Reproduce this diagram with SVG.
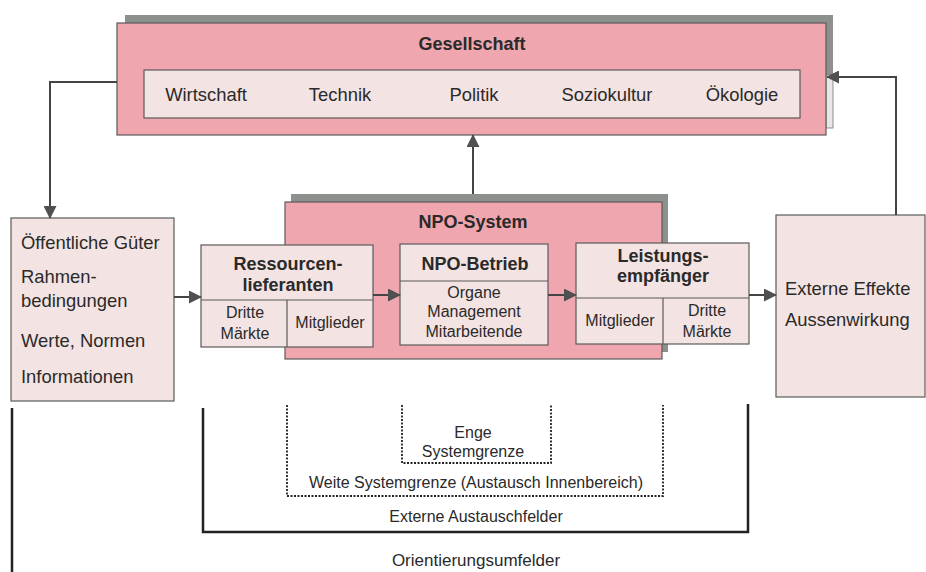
<svg xmlns="http://www.w3.org/2000/svg" width="926" height="572" viewBox="0 0 926 572">
<defs>
<style>
text{font-family:"Liberation Sans",Arial,sans-serif;fill:#2a2a2a}
.t18{font-size:18.4px}
.b18{font-size:18px;font-weight:bold}
.t16{font-size:16px}
.mid{text-anchor:middle}
.pink{fill:#efa6ae;stroke:#5a5a5a;stroke-width:1.2}
.light{fill:#f3e3e2;stroke:#5a5a5a;stroke-width:1.2}
.shadow{fill:#8d918d}
.conn{fill:none;stroke:#444;stroke-width:2}
.bound{fill:none;stroke:#222;stroke-width:2.5}
.dot{fill:none;stroke:#222;stroke-width:1.8;stroke-dasharray:2 1.5}
</style>
<marker id="ah" viewBox="0 0 13 13" refX="12" refY="6.5" markerWidth="13" markerHeight="13" markerUnits="userSpaceOnUse" orient="auto">
<path d="M0,0 L13,6.5 L0,13 z" fill="#505050"/>
</marker>
</defs>
<rect width="926" height="572" fill="#ffffff"/>

<g id="gesellschaft">
<rect class="shadow" x="125" y="15" width="708" height="113"/>
<rect x="826" y="75" width="7" height="53" fill="#e6e8e6" stroke="#777" stroke-width="0.8"/>
<rect class="pink" x="117" y="23" width="709" height="112"/>
<text class="b18 mid" x="472" y="50">Gesellschaft</text>
<rect class="light" x="144" y="70" width="656" height="48"/>
<text class="t18 mid" x="206" y="101">Wirtschaft</text>
<text class="t18 mid" x="340" y="101">Technik</text>
<text class="t18 mid" x="474" y="101">Politik</text>
<text class="t18 mid" x="607" y="101">Soziokultur</text>
<text class="t18 mid" x="742" y="101">Ökologie</text>
</g>

<g id="npo-system">
<rect class="shadow" x="291" y="194" width="377" height="158"/>
<rect class="pink" x="285" y="202" width="377" height="157"/>
<text class="b18 mid" x="473" y="228">NPO-System</text>
</g>

<g id="umfeld-links">
<rect class="light" x="11" y="218" width="163" height="183"/>
<text class="t18" x="21" y="249">Öffentliche Güter</text>
<text class="t18" x="21" y="283">Rahmen-</text>
<text class="t18" x="21" y="307">bedingungen</text>
<text class="t18" x="21" y="347">Werte, Normen</text>
<text class="t18" x="21" y="383">Informationen</text>
</g>

<g id="ressourcenlieferanten">
<rect class="light" x="201" y="245" width="172" height="102"/>
<line x1="201" y1="300" x2="373" y2="300" stroke="#5a5a5a" stroke-width="1.2"/>
<line x1="287" y1="300" x2="287" y2="347" stroke="#5a5a5a" stroke-width="1.2"/>
<text class="b18 mid" x="288" y="270">Ressourcen-</text>
<text class="b18 mid" x="288" y="291">lieferanten</text>
<text class="t16 mid" x="245" y="318">Dritte</text>
<text class="t16 mid" x="245" y="339">Märkte</text>
<text class="t16 mid" x="330" y="328">Mitglieder</text>
</g>

<g id="npo-betrieb">
<rect class="light" x="400" y="244" width="148" height="101"/>
<line x1="400" y1="281" x2="548" y2="281" stroke="#5a5a5a" stroke-width="1.2"/>
<text class="b18 mid" x="475" y="270">NPO-Betrieb</text>
<text class="t16 mid" x="474" y="298">Organe</text>
<text class="t16 mid" x="474" y="317">Management</text>
<text class="t16 mid" x="474" y="337">Mitarbeitende</text>
</g>

<g id="leistungsempfaenger">
<rect class="light" x="576" y="243" width="173" height="101"/>
<line x1="576" y1="298" x2="749" y2="298" stroke="#5a5a5a" stroke-width="1.2"/>
<line x1="663" y1="298" x2="663" y2="344" stroke="#5a5a5a" stroke-width="1.2"/>
<text class="b18 mid" x="663" y="262">Leistungs-</text>
<text class="b18 mid" x="663" y="282">empfänger</text>
<text class="t16 mid" x="620" y="326">Mitglieder</text>
<text class="t16 mid" x="707" y="316">Dritte</text>
<text class="t16 mid" x="707" y="337">Märkte</text>
</g>

<g id="externe-effekte">
<rect class="light" x="776" y="215" width="149" height="182"/>
<text class="t18" x="785" y="295">Externe Effekte</text>
<text class="t18" x="785" y="326">Aussenwirkung</text>
</g>

<g id="connectors">
<path class="conn" d="M117,82 H50 V218" marker-end="url(#ah)"/>
<path class="conn" d="M896,215 V77 H827" marker-end="url(#ah)"/>
<path class="conn" d="M473,194 V135" marker-end="url(#ah)"/>
<path class="conn" d="M174,297 H201" marker-end="url(#ah)"/>
<path class="conn" d="M373,295 H400" marker-end="url(#ah)"/>
<path class="conn" d="M548,295 H576" marker-end="url(#ah)"/>
<path class="conn" d="M749,295 H776" marker-end="url(#ah)"/>
</g>

<g id="grenzen">
<line class="bound" x1="12" y1="408" x2="12" y2="572"/>
<path class="bound" d="M203,408 V532 H748 V404"/>
<path class="dot" d="M287,405 V496 H663 V405"/>
<path class="dot" d="M402,405 V463 H551 V405"/>
<text class="t16 mid" x="473" y="438">Enge</text>
<text class="t16 mid" x="473" y="457">Systemgrenze</text>
<text class="t16 mid" x="476" y="488">Weite Systemgrenze (Austausch Innenbereich)</text>
<text class="t16 mid" x="476" y="522">Externe Austauschfelder</text>
<text class="mid" x="476" y="566" font-size="17px">Orientierungsumfelder</text>
</g>
</svg>
